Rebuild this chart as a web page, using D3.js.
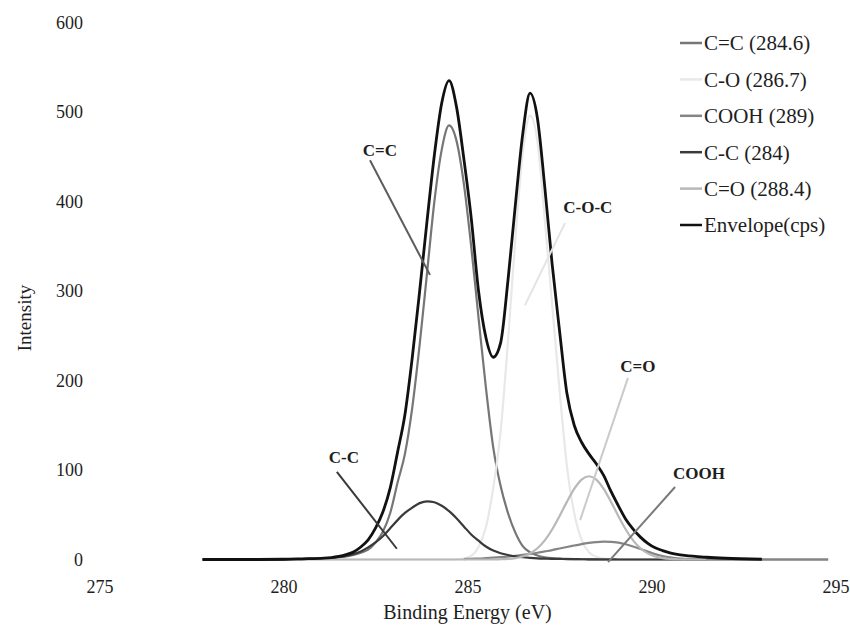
<!DOCTYPE html>
<html>
<head>
<meta charset="utf-8">
<script src="https://cdn.jsdelivr.net/npm/d3@7"></script>
<style>
    body { margin: 0; background: #fff; }
    text { font-family: "Liberation Serif", "Times New Roman", serif; fill: #1e1e1e; }
</style>
</head>
<body>
<svg id="xps-svg" width="850" height="632"></svg>
<script>
// binding energy grid (eV) shared by all curves
const energy = [277.8, 279.0, 280.0, 280.5,
    281.1, 281.3, 281.5, 281.7, 281.9, 282.1, 282.3, 282.5, 282.7, 282.9,
    283.1, 283.3, 283.5, 283.7, 283.9, 284.1, 284.3, 284.5, 284.7, 284.9,
    285.1, 285.3, 285.5, 285.7, 285.9, 286.1, 286.3, 286.5, 286.7, 286.9,
    287.1, 287.3, 287.5, 287.7, 287.9, 288.1, 288.3, 288.5, 288.7, 288.9,
    289.1, 289.3, 289.5, 289.7, 289.9, 290.1, 290.3, 290.5, 290.7, 290.9,
    291.5, 292.0, 293.0, 294.0, 294.8];

// C=C (284.6)
const ccDouble = [0, 0, 0.2, 0.5,
    1, 1.5, 2.5, 3.5, 5, 7.5, 11, 19, 31, 52,
    86, 118, 170, 240, 320, 400, 458, 485, 468, 420,
    350, 270, 192, 125, 82, 52, 30, 15, 8, 4.5,
    2.5, 1.5, 1, 0.6, 0.4, 0.3, 0.2, 0.2, 0.1, 0.1,
    0, 0, 0, 0, 0, 0, 0, 0, 0, 0,
    0, 0, 0, 0, 0];

// C-O (286.7)
const coSingle = [null, null, null, 0,
    0, 0, 0, 0, 0, 0, 0, 0, 0, 0,
    0, 0, 0, 0, 0, 0, 0, 0, 0.3, 1,
    3.9, 14, 36, 80, 143, 244, 358, 454, 496, 467,
    380, 285, 190, 105, 52, 22, 8, 3, 1, 0.4,
    0, 0, 0, 0, 0, 0, 0, 0, 0, 0,
    0, null, null, null, null];

// COOH (289)
const cooh = [null, null, null, null,
    null, null, null, null, null, null, null, null, null, null,
    null, null, null, null, null, null, null, null, null, 0.5,
    0.8, 1, 1.5, 2, 2.6, 3.3, 4.2, 5.2, 6.3, 7.5,
    9, 10.5, 12.3, 14, 15.6, 17.2, 18.5, 19.5, 20, 19.8,
    18.8, 17, 14.6, 11.8, 8.8, 6, 3.9, 2.4, 1.4, 0.8,
    0.2, 0, 0, 0, 0];

// C-C (284)
const ccSingle = [0, 0, 0.2, 0.5,
    1, 1.5, 2.5, 4, 6, 9, 13.5, 19, 26, 35,
    44, 52, 58, 63, 65, 64, 60, 54, 46, 37,
    28, 21, 14.5, 10, 7, 5, 3.5, 2.5, 1.8, 1.3,
    1, 0.8, 0.6, 0.5, 0.4, 0.3, 0.2, 0.2, 0.1, 0.1,
    0, 0, 0, 0, 0, 0, 0, 0, 0, 0,
    0, null, null, null, null];

// C=O (288.4)
const coDouble = [null, null, null, 0,
    0, 0, 0, 0, 0, 0, 0, 0, 0, 0,
    0, 0, 0, 0, 0, 0, 0, 0, 0, 0,
    0, 0, 0, 0, 0.3, 0.7, 1.6, 3.4, 6.8, 12.6,
    21.4, 33.5, 48.4, 64.4, 79, 89.3, 93, 89.3, 79, 64.4,
    48.4, 33.5, 21.4, 12.6, 6.8, 3.4, 1.6, 0.7, 0.3, 0.1,
    0, null, null, null, null];

// Envelope(cps)
const envelope = [0, 0, 0.3, 0.8,
    1.5, 2.2, 3.5, 5.5, 8.5, 14, 22, 35, 53, 80,
    120, 162, 226, 300, 378, 452, 510, 535, 506, 448,
    382, 300, 248, 226, 242, 312, 396, 475, 521, 493,
    416, 330, 256, 186, 150, 131, 118, 107, 94, 76,
    60, 45, 34, 25, 18, 13, 10, 7.5, 5.8, 4.6,
    2.5, 1.4, 0.3, null, null];

const seriesNames = ["C=C (284.6)", "C-O (286.7)", "COOH (289)", "C-C (284)", "C=O (288.4)", "Envelope(cps)"];
const seriesValues = [ccDouble, coSingle, cooh, ccSingle, coDouble, envelope];

const xTicks = [275, 280, 285, 290, 295];
const yTicks = [0, 100, 200, 300, 400, 500, 600];

// peak labels with leader lines, in data units (eV, intensity)
const peakLabels = ["C=C", "C-O-C", "C=O", "COOH", "C-C"];
const peakLabelAt = [[282.62, 457], [288.27, 394], [289.63, 216], [291.29, 97], [281.64, 114]];
const leaderFrom = [[282.35, 446], [287.65, 376], [289.36, 203], [290.64, 81], [281.45, 98]];
const leaderTo = [[283.98, 318], [286.56, 284], [288.06, 44], [288.82, -3], [283.08, 12]];

document.addEventListener("DOMContentLoaded", function () {
    const svg = d3.select("#xps-svg");
    const width = +svg.attr("width");
    const height = +svg.attr("height");
    const margin = { top: 22.5, right: 14.5, bottom: 72.5, left: 99.5 };
    const chartWidth = width - margin.left - margin.right;
    const chartHeight = height - margin.top - margin.bottom;

    const colors = ["#767676", "#e8e8e8", "#858585", "#3a3a3a", "#b8b8b8", "#111111"];
    const widths = [2.2, 2.2, 2.2, 2.2, 2.2, 2.8];
    const leaderColors = ["#5c5c5c", "#e4e4e4", "#cacaca", "#7a7a7a", "#3a3a3a"];

    const chartArea = svg.append("g")
        .attr("transform", `translate(${margin.left},${margin.top})`);

    const xScale = d3.scaleLinear().domain([275, 295]).range([0, chartWidth]);
    const yScale = d3.scaleLinear().domain([0, 600]).range([chartHeight, 0]);

    const xAxis = d3.axisBottom(xScale).tickValues(xTicks).tickSize(0).tickPadding(21).tickFormat(d3.format("d"));
    const yAxis = d3.axisLeft(yScale).tickValues(yTicks).tickSize(0).tickPadding(16.5);

    const xAxisGroup = chartArea.append("g")
        .attr("transform", `translate(0, ${chartHeight})`)
        .call(xAxis);
    const yAxisGroup = chartArea.append("g").call(yAxis);

    [xAxisGroup, yAxisGroup].forEach((g) => {
        g.select(".domain").remove();
        g.selectAll("text")
            .style("font-family", '"Liberation Serif", "Times New Roman", serif')
            .style("font-size", "18px")
            .attr("fill", "#1e1e1e");
    });

    // curves
    seriesValues.forEach((values, k) => {
        const points = energy.map((e, i) => ({ e: e, v: values[i] }));
        const line = d3.line()
            .defined((d) => d.v !== null)
            .x((d) => xScale(d.e))
            .y((d) => yScale(d.v))
            .curve(d3.curveMonotoneX);
        chartArea.append("path")
            .datum(points)
            .attr("class", "line")
            .attr("d", line)
            .style("fill", "none")
            .style("stroke", colors[k])
            .style("stroke-width", widths[k])
            .style("stroke-linejoin", "round");
    });

    // leader lines and peak labels
    peakLabels.forEach((name, k) => {
        chartArea.append("line")
            .attr("x1", xScale(leaderFrom[k][0]))
            .attr("y1", yScale(leaderFrom[k][1]))
            .attr("x2", xScale(leaderTo[k][0]))
            .attr("y2", yScale(leaderTo[k][1]))
            .style("stroke", leaderColors[k])
            .style("stroke-width", 2);
        chartArea.append("text")
            .attr("x", xScale(peakLabelAt[k][0]))
            .attr("y", yScale(peakLabelAt[k][1]))
            .attr("dy", "0.35em")
            .attr("text-anchor", "middle")
            .style("font-size", "17px")
            .style("font-weight", "bold")
            .text(name);
    });

    // legend
    const legend = svg.append("g").attr("transform", "translate(680, 43)");
    seriesNames.forEach((name, k) => {
        const row = legend.append("g").attr("transform", `translate(0, ${k * 36.4})`);
        row.append("line")
            .attr("x1", 0).attr("x2", 22)
            .attr("y1", 0).attr("y2", 0)
            .style("stroke", colors[k])
            .style("stroke-width", 2.5);
        row.append("text")
            .attr("x", 24)
            .attr("dy", "0.35em")
            .style("font-size", "21px")
            .text(name);
    });

    // axis titles
    svg.append("text")
        .attr("x", margin.left + chartWidth / 2)
        .attr("y", 619)
        .attr("text-anchor", "middle")
        .style("font-size", "20px")
        .text("Binding Energy (eV)");

    svg.append("text")
        .attr("transform", "translate(31, 318) rotate(-90)")
        .attr("text-anchor", "middle")
        .style("font-size", "19px")
        .text("Intensity");
});
</script>
</body>
</html>
